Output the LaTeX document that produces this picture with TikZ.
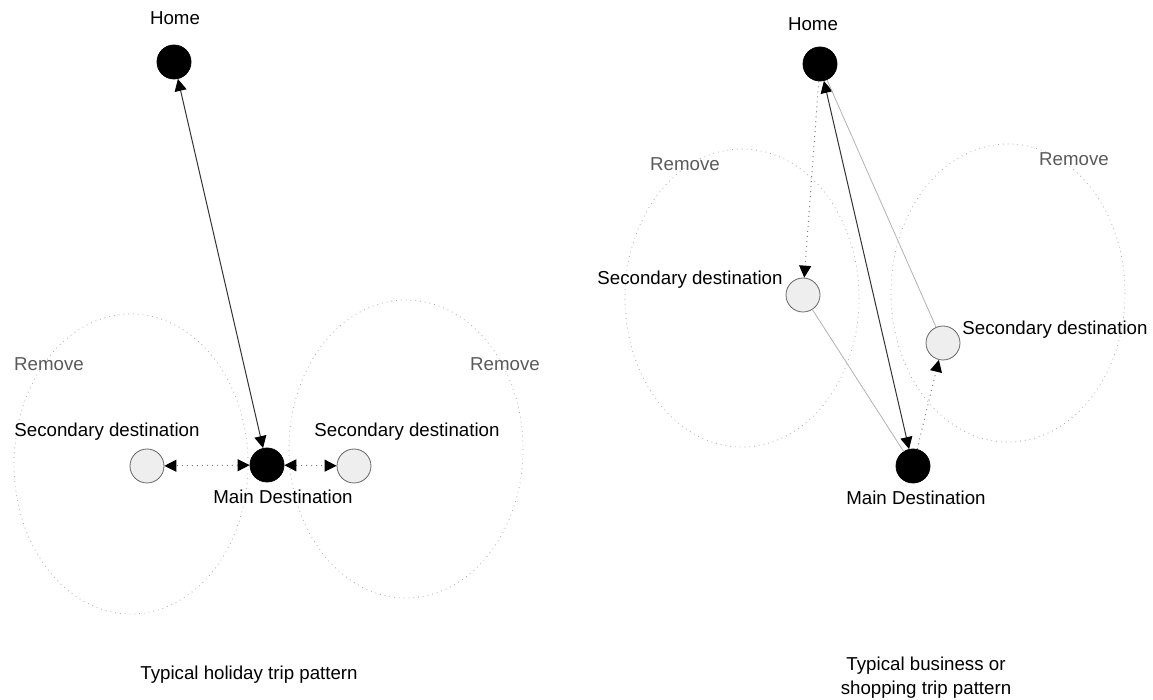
\documentclass[tikz,border=0pt]{standalone}
\usepackage{fontspec}
\setmainfont{Liberation Sans}
\usetikzlibrary{arrows.meta}
\definecolor{zonegray}{RGB}{170,170,170}
\definecolor{stopfill}{RGB}{238,238,238}
\definecolor{labelgray}{RGB}{90,90,90}

\begin{document}
\begin{tikzpicture}[x=0.5pt, y=-0.5pt, font=\fontsize{9.35}{12}\selectfont]
    % Define styles
    \tikzstyle{mainstop} = [circle, draw, fill=black, minimum size=17pt, inner sep=0pt]
    \tikzstyle{sidestop} = [circle, draw=black!60, fill=stopfill, minimum size=17pt, inner sep=0pt]
    \tikzstyle{zone} = [draw=zonegray, dotted, line width=0.4pt]
    \tikzstyle{zonelabel} = [text=labelgray]
    \tikzstyle{arrow} = [line width=0.5pt, draw=black!80, >={Triangle[length=6pt,width=6pt,color=black]}]
    \tikzstyle{dotarrow} = [arrow, dotted, draw=black!50]
    \tikzstyle{faint} = [line width=0.4pt, draw=black!30]

    \useasboundingbox (0,0) rectangle (1153,700);

    % Zones
    \draw [zone] (131,464) ellipse [x radius=117, y radius=150];
    \draw [zone] (406,449) ellipse [x radius=117, y radius=149];
    \draw [zone] (742,298) ellipse [x radius=117, y radius=149];
    \draw [zone] (1008,293) ellipse [x radius=117, y radius=149];

    % Holiday trip
    \node (homeA) [mainstop] at (174,62) {};
    \node (mainA) [mainstop] at (267,465) {};
    \node (sideAL) [sidestop] at (147,466) {};
    \node (sideAR) [sidestop] at (354,466) {};

    \node (homeAtxt) at (175,18) {Home};
    \node (mainAtxt) at (283,497) {Main Destination};
    \node (sideALtxt) at (107,432) {Secondary destination};
    \node (sideARtxt) at (407,432) {Secondary destination};
    \node (zoneALtxt) [zonelabel] at (49,364) {Remove};
    \node (zoneARtxt) [zonelabel] at (505,364) {Remove};
    \node (captionA) at (249,675) {Typical holiday trip pattern};

    % Business or shopping trip
    \node (homeB) [mainstop] at (820,64) {};
    \node (mainB) [mainstop] at (913,466) {};
    \node (sideBL) [sidestop] at (803,295) {};
    \node (sideBR) [sidestop] at (943,343) {};

    \node (homeBtxt) at (813,24) {Home};
    \node (mainBtxt) at (916,498) {Main Destination};
    \node (sideBLtxt) at (690,280) {Secondary destination};
    \node (sideBRtxt) at (1055,330) {Secondary destination};
    \node (zoneBLtxt) [zonelabel] at (685,164) {Remove};
    \node (zoneBRtxt) [zonelabel] at (1074,159) {Remove};
    \node (captionB) [align=center] at (926,678) {Typical business or\\shopping trip pattern};

    % Arrows
    \draw [arrow, <->] (homeA) -- (mainA);
    \draw [dotarrow, <->] (mainA) -- (sideAL);
    \draw [dotarrow, <->] (mainA) -- (sideAR);

    \draw [arrow, <->] (homeB) -- (mainB);
    \draw [dotarrow, ->] (homeB) -- (sideBL);
    \draw [faint] (sideBL) -- (mainB);
    \draw [dotarrow, ->] (mainB) -- (sideBR);
    \draw [faint] (sideBR) -- (homeB);
\end{tikzpicture}
\end{document}
